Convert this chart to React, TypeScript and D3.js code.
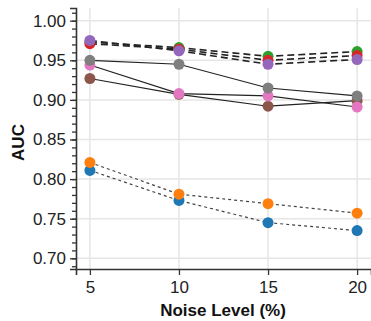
import React, { useRef, useEffect } from "react";
import * as d3 from "d3";

const noiseLevels = [5, 10, 15, 20];
const yTicks = [0.7, 0.75, 0.8, 0.85, 0.9, 0.95, 1.0];

const blueAuc = [0.811, 0.773, 0.745, 0.735];
const orangeAuc = [0.821, 0.781, 0.769, 0.757];
const greenAuc = [0.973, 0.966, 0.955, 0.961];
const redAuc = [0.971, 0.964, 0.95, 0.956];
const purpleAuc = [0.975, 0.962, 0.945, 0.951];
const brownAuc = [0.927, 0.907, 0.892, 0.899];
const pinkAuc = [0.944, 0.908, 0.905, 0.891];
const grayAuc = [0.95, 0.945, 0.915, 0.905];

const seriesList = [
  { name: "blue", color: "#1f77b4", dash: "3,3", values: blueAuc },
  { name: "orange", color: "#ff7f0e", dash: "3,3", values: orangeAuc },
  { name: "green", color: "#2ca02c", dash: "7,4", values: greenAuc },
  { name: "red", color: "#d62728", dash: "7,4", values: redAuc },
  { name: "purple", color: "#9467bd", dash: "7,4", values: purpleAuc },
  { name: "brown", color: "#8c564b", dash: null, values: brownAuc },
  { name: "pink", color: "#e377c2", dash: null, values: pinkAuc },
  { name: "gray", color: "#7f7f7f", dash: null, values: grayAuc },
];

const W = 371;
const H = 321;
const left = 76;
const right = 371;
const top = 8;
const bottom = 269;
const FONT = "Helvetica, Arial, 'Liberation Sans', sans-serif";

function App() {
  const svgRef = useRef(null);

  useEffect(() => {
    const svg = d3.select(svgRef.current);
    svg.selectAll("*").remove();

    const x = d3.scaleLinear().domain([4.22, 20.78]).range([left, right]);
    const y = d3.scaleLinear().domain([0.6865, 1.016]).range([bottom, top]);

    // grid
    const grid = svg.append("g");
    grid
      .selectAll(".hg")
      .data(yTicks)
      .join("line")
      .attr("x1", left)
      .attr("x2", right)
      .attr("y1", (d) => y(d))
      .attr("y2", (d) => y(d))
      .attr("stroke", "#e6e6e6")
      .attr("stroke-width", 1.5);
    grid
      .selectAll(".vg")
      .data(noiseLevels)
      .join("line")
      .attr("x1", (d) => x(d))
      .attr("x2", (d) => x(d))
      .attr("y1", top)
      .attr("y2", bottom)
      .attr("stroke", "#e6e6e6")
      .attr("stroke-width", 1.5);

    // minor y ticks
    const minor = d3.range(0, 33).map((i) => +(0.69 + i * 0.01).toFixed(2)).filter((v) => v <= 1.016);
    svg
      .append("g")
      .attr("transform", `translate(${left},0)`)
      .call(d3.axisLeft(y).tickValues(minor).tickSize(4).tickFormat(() => "").tickSizeOuter(0))
      .call((g) => g.select(".domain").remove())
      .selectAll("line")
      .attr("stroke", "#333")
      .attr("stroke-width", 1.3);

    // y axis
    const yAxis = svg
      .append("g")
      .attr("transform", `translate(${left},0)`)
      .call(d3.axisLeft(y).tickValues(yTicks).tickFormat(d3.format(".2f")).tickSize(6).tickSizeOuter(6).tickPadding(4));
    yAxis.selectAll("text").attr("font-family", FONT).attr("font-size", 17).attr("fill", "#222");
    yAxis.selectAll("line").attr("stroke", "#333").attr("stroke-width", 1.3);
    yAxis.select(".domain").attr("stroke", "#333").attr("stroke-width", 1.6);

    // x axis
    const xAxis = svg
      .append("g")
      .attr("transform", `translate(0,${bottom})`)
      .call(d3.axisBottom(x).tickValues(noiseLevels).tickSize(6).tickSizeOuter(6).tickPadding(6));
    xAxis.selectAll("text").attr("font-family", FONT).attr("font-size", 17).attr("fill", "#222");
    xAxis.selectAll("line").attr("stroke", "#333").attr("stroke-width", 1.3);
    xAxis.select(".domain").attr("stroke", "#333").attr("stroke-width", 1.6);

    // lines
    const line = d3
      .line<number>()
      .x((d, i) => x(noiseLevels[i]))
      .y((d) => y(d));

    svg
      .append("g")
      .selectAll("path")
      .data(seriesList)
      .join("path")
      .attr("d", (s) => line(s.values))
      .attr("fill", "none")
      .attr("stroke", (s) => (s.dash === "3,3" ? "#444" : "#222"))
      .attr("stroke-width", (s) => (s.dash === "7,4" ? 1.6 : 1.2))
      .attr("stroke-dasharray", (s) => s.dash);

    // dots
    seriesList.forEach((s) => {
      svg
        .append("g")
        .selectAll("circle")
        .data(s.values)
        .join("circle")
        .attr("cx", (d, i) => x(noiseLevels[i]))
        .attr("cy", (d) => y(d))
        .attr("r", 5.5)
        .attr("fill", s.color);
    });

    // axis titles
    svg
      .append("text")
      .attr("transform", `translate(24,${(top + bottom) / 2 + 4}) rotate(-90)`)
      .attr("text-anchor", "middle")
      .attr("font-family", FONT)
      .attr("font-weight", "bold")
      .attr("font-size", 17)
      .attr("fill", "#111")
      .text("AUC");

    svg
      .append("text")
      .attr("x", 223)
      .attr("y", 316)
      .attr("text-anchor", "middle")
      .attr("font-family", FONT)
      .attr("font-weight", "bold")
      .attr("font-size", 17)
      .attr("fill", "#111")
      .text("Noise Level (%)");
  }, []);

  return (
    <svg
      ref={svgRef}
      width={W}
      height={H}
      style={{ position: "absolute", left: 0, top: 0, background: "#fff" }}
    />
  );
}

export default App;
